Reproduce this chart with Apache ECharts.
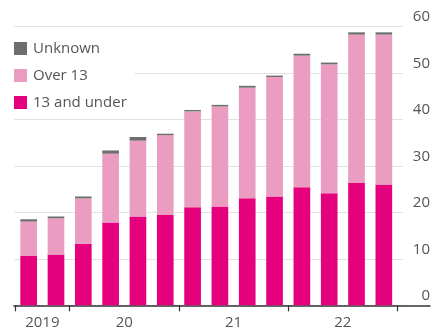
<!DOCTYPE html>
<html>
<head>
<meta charset="utf-8">
<script src="https://cdn.jsdelivr.net/npm/echarts@6/dist/echarts.min.js"></script>
<style>
html,body{margin:0;padding:0;background:#fff;}
#chart{width:436px;height:335px;}
</style>
</head>
<body>
<div id="chart"></div>
<script>
// Quarterly categories
var categories = ['2019 Q3','2019 Q4','2020 Q1','2020 Q2','2020 Q3','2020 Q4','2021 Q1','2021 Q2','2021 Q3','2021 Q4','2022 Q1','2022 Q2','2022 Q3','2022 Q4'];
var under13 = [10.6, 10.9, 13.2, 17.8, 19.1, 19.4, 21.1, 21.25, 23.0, 23.4, 25.4, 24.1, 26.3, 26.0];
var over13  = [7.4, 7.8, 9.8, 14.8, 16.3, 17.2, 20.6, 21.5, 23.8, 25.7, 28.3, 27.7, 31.9, 32.2];
var unknown = [0.5, 0.4, 0.4, 0.7, 0.8, 0.3, 0.3, 0.35, 0.4, 0.3, 0.4, 0.4, 0.5, 0.5];
var yearLabels = ['2019', '20', '21', '22'];

// year group boundaries from categories
var years = [], starts = [];
categories.forEach(function (c, i) {
  var y = c.slice(0, 4);
  if (years.indexOf(y) < 0) { years.push(y); starts.push(i); }
});
var bounds = starts.concat([categories.length]);
var labelPos = [];
for (var i = 0; i < years.length; i++) labelPos.push((bounds[i] + bounds[i + 1]) / 2);

var FONT = '"Open Sans", sans-serif';
var TXT = '#555';
var TOP = 26.3, BOTTOM = 335 - 305.3;

var chart = echarts.init(document.getElementById('chart'));
chart.setOption({
  animation: false,
  backgroundColor: '#fff',
  textStyle: { fontFamily: FONT },
  grid: [
    { left: 15, right: 38.5, top: TOP, bottom: BOTTOM },
    { left: 14, right: 33, top: TOP, bottom: BOTTOM },
    { left: 14, right: 6, top: TOP, bottom: BOTTOM }
  ],
  legend: {
    data: ['Unknown', 'Over 13', '13 and under'],
    orient: 'vertical',
    left: 14, top: 40,
    itemWidth: 13, itemHeight: 13, itemGap: 12,
    padding: [1, 8, 2, 0],
    backgroundColor: '#fff',
    icon: 'rect',
    textStyle: { fontFamily: FONT, fontSize: 15, color: TXT, padding: [0, 0, 0, 1] }
  },
  xAxis: [
    { type: 'category', gridIndex: 0, data: categories, show: false },
    {
      type: 'value', gridIndex: 0, min: 0, max: categories.length, position: 'bottom',
      axisLine: { show: false }, splitLine: { show: false },
      axisTick: { show: true, length: 6, customValues: bounds, lineStyle: { color: '#333', width: 1.2 } },
      axisLabel: {
        show: true, customValues: labelPos, margin: 10,
        fontFamily: FONT, fontSize: 15, color: TXT,
        formatter: function (v) { var k = labelPos.indexOf(v); return k >= 0 ? yearLabels[k] : ''; }
      }
    },
    { type: 'value', gridIndex: 1, min: 0, max: 1, show: false },
    {
      type: 'value', gridIndex: 2, min: 0, max: 1, position: 'bottom',
      axisLine: { show: true, lineStyle: { color: '#333', width: 1.5 } },
      axisTick: { show: false }, axisLabel: { show: false }, splitLine: { show: false }
    }
  ],
  yAxis: [
    { type: 'value', gridIndex: 0, min: 0, max: 60, show: false },
    {
      type: 'value', gridIndex: 1, min: 0, max: 60, interval: 10, position: 'right',
      axisLine: { show: false }, axisTick: { show: false },
      splitLine: { show: true, lineStyle: { color: '#e2e2e2', width: 1 } },
      axisLabel: {
        show: true, margin: 27, align: 'right', verticalAlign: 'bottom',
        padding: [0, 0, 2, 0],
        fontFamily: FONT, fontSize: 15, color: TXT
      }
    },
    { type: 'value', gridIndex: 2, min: 0, max: 1, show: false }
  ],
  series: [
    { name: '13 and under', type: 'bar', stack: 'a', xAxisIndex: 0, yAxisIndex: 0, data: under13,
      itemStyle: { color: '#e5007e' }, barCategoryGap: '39%' },
    { name: 'Over 13', type: 'bar', stack: 'a', xAxisIndex: 0, yAxisIndex: 0, data: over13,
      itemStyle: { color: '#eb9dc1' } },
    { name: 'Unknown', type: 'bar', stack: 'a', xAxisIndex: 0, yAxisIndex: 0, data: unknown,
      itemStyle: { color: '#6e6e6e' } }
  ]
});
</script>
</body>
</html>
